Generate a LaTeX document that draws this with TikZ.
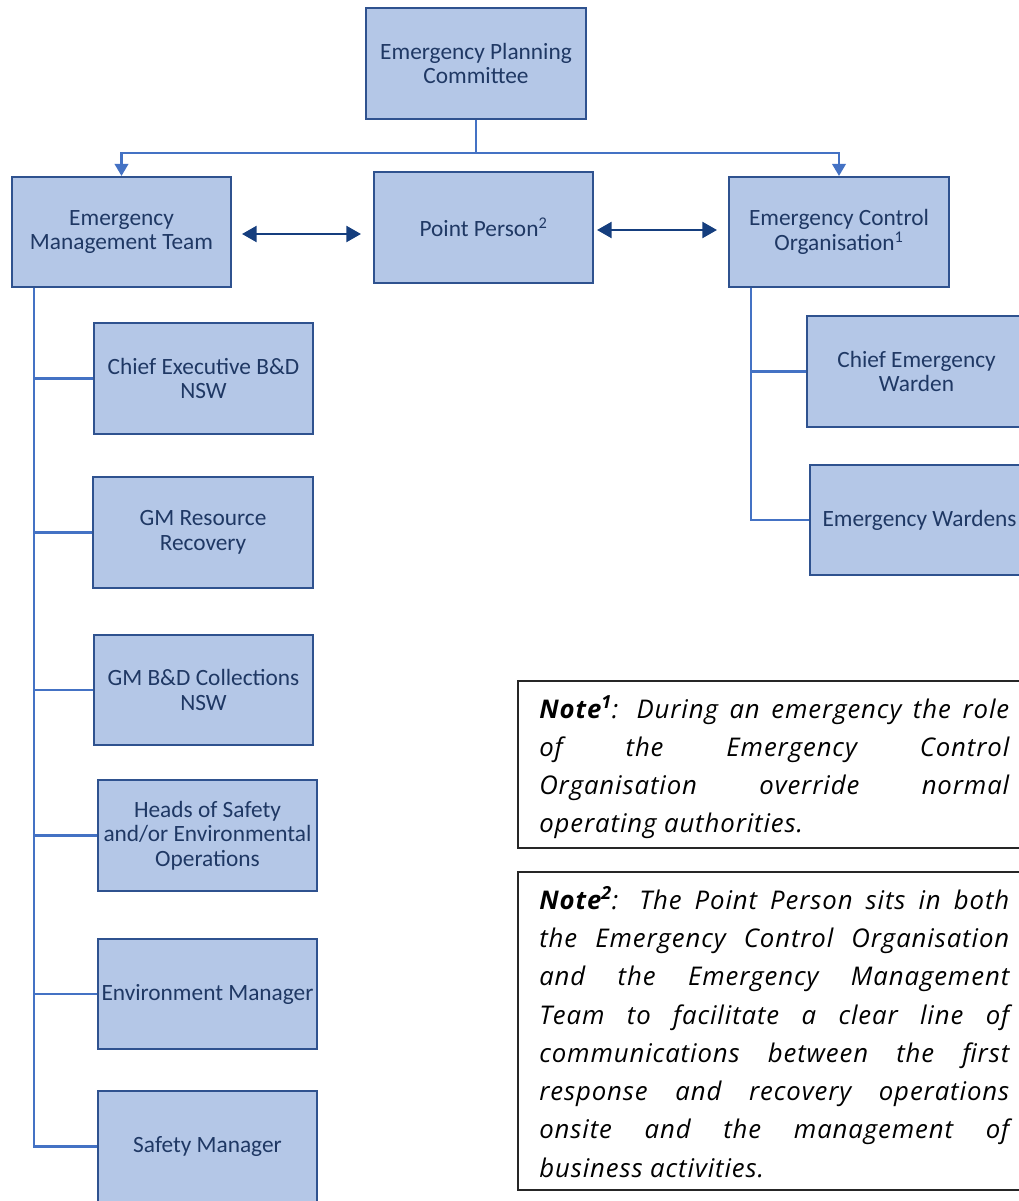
\documentclass[tikz,border=0pt]{standalone}
\usepackage{fontspec}
\setmainfont{Carlito}
\newfontfamily\notefont[LetterSpace=3.5]{Open Sans}
\usetikzlibrary{arrows.meta,calc}
\definecolor{boxfill}{HTML}{B4C7E7}
\definecolor{boxline}{HTML}{2F528F}
\definecolor{boxtext}{HTML}{1F3864}
\definecolor{conncol}{HTML}{4472C4}
\definecolor{dblcol}{HTML}{153E7E}
\newcommand{\jl}[1]{\hbox to 352.5pt{#1}}
\begin{document}
\begin{tikzpicture}[x=0.75pt,y=-0.75pt,
  orgbox/.style={draw=boxline, fill=boxfill, line width=1.5pt, text=boxtext,
    font=\fontsize{17.5}{18.5}\selectfont, align=center, inner sep=2pt,
    minimum width=164.25pt, minimum height=83.25pt},
  conn/.style={draw=conncol, line width=1.8pt},
  downarrow/.style={conn, -{Triangle[length=9pt,width=10pt]}},
  dblarrow/.style={draw=dblcol, line width=1.8pt,
    {Triangle[length=11pt,width=12pt]}-{Triangle[length=11pt,width=12pt]}},
  notebox/.style={draw=black!85, line width=1.2pt, anchor=north west, inner sep=0pt},
  notetext/.style={anchor=north west, inner sep=0pt,
    font=\notefont\itshape\fontsize{19.3}{28.7}\selectfont}
]
\clip (0,0) rectangle (1019,1201);
\useasboundingbox (0,0) rectangle (1019,1201);

% top row
\node[orgbox, minimum width=165pt] (epc) at (476,63.5) {Emergency Planning\\Committee};
\node[orgbox, minimum height=82.5pt] (emt) at (121.5,232) {Emergency\\Management Team};
\node[orgbox] (pp) at (483.5,227.5) {Point Person\textsuperscript{2}};
\node[orgbox, minimum width=165pt, minimum height=82.5pt] (eco) at (839,232) {Emergency Control\\Organisation\textsuperscript{1}};

% left column
\node[orgbox] (ce) at (203.5,378.5) {Chief Executive B\&D\\NSW};
\node[orgbox, minimum width=165pt] (gmr) at (203,532.5) {GM Resource\\Recovery};
\node[orgbox, minimum height=82.5pt] (gmb) at (203.5,690) {GM B\&D Collections\\NSW};
\node[orgbox] (hos) at (207.5,835.5) {Heads of Safety\\and/or Environmental\\Operations};
\node[orgbox, minimum height=82.5pt] (env) at (207.5,994) {Environment Manager};
\node[orgbox] (sm) at (207.5,1146.5) {Safety Manager};

% right column
\node[orgbox] (cew) at (916.5,371.5) {Chief Emergency\\Warden};
\node[orgbox, minimum height=82.5pt] (ew) at (919.5,520) {Emergency Wardens};

% connectors from committee
\coordinate (bus) at (476,153);
\draw[conn] (epc.south) -- (bus);
\draw[downarrow] (bus) -| (emt.north);
\draw[downarrow] (bus) -| (eco.north);

% double arrows
\coordinate (d1a) at (242,234);
\coordinate (d2a) at (597,230);
\draw[dblarrow] (d1a) -- ([xshift=-9pt]d1a -| pp.west);
\draw[dblarrow] (d2a) -- ([xshift=-8.25pt]d2a -| eco.west);

% left tree
\coordinate (lt) at ([xshift=17.25pt]emt.south west);
\draw[conn] (lt) |- (sm.west);
\foreach \n in {ce,gmr,gmb,hos,env} \draw[conn] (\n.west) -- (\n.west -| lt);

% right tree
\coordinate (rt) at ([xshift=17.25pt]eco.south west);
\draw[conn] (rt) |- (ew.west);
\draw[conn] (cew.west) -- (cew.west -| rt);

% notes
\node[notebox, minimum width=384.75pt, minimum height=125.25pt] (n1) at (517,680) {};
\node[notetext] (n1t) at (539,695) {\vbox{%
\jl{\textbf{Note\textsuperscript{1}}: During an emergency the role}
\jl{of the Emergency Control}
\jl{Organisation override normal}
\hbox{operating authorities.}}};

\node[notebox, minimum width=384.75pt, minimum height=238.5pt] (n2) at (517,871) {};
\node[notetext] (n2t) at (539,886) {\vbox{%
\jl{\textbf{Note\textsuperscript{2}}: The Point Person sits in both}
\jl{the Emergency Control Organisation}
\jl{and the Emergency Management}
\jl{Team to facilitate a clear line of}
\jl{communications between the first}
\jl{response and recovery operations}
\jl{onsite and the management of}
\hbox{business activities.}}};
\end{tikzpicture}
\end{document}
